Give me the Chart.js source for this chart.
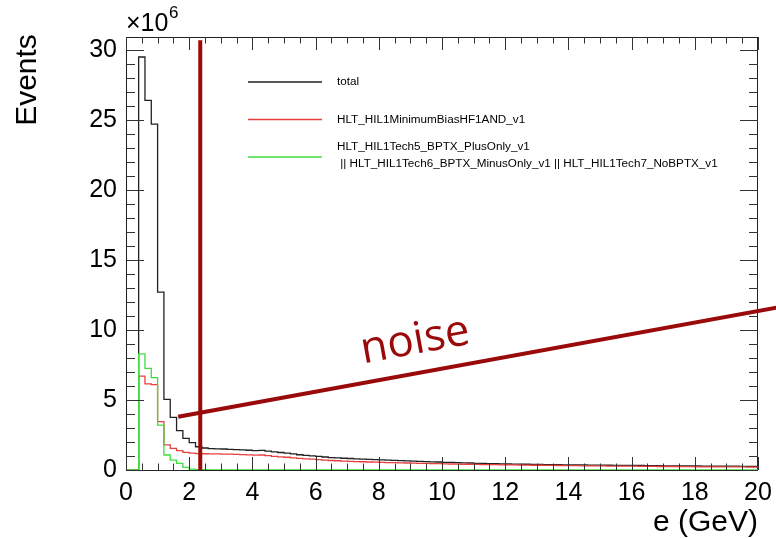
<!DOCTYPE html>
<html>
<head>
<meta charset="utf-8">
<script src="https://cdn.jsdelivr.net/npm/chart.js@4.4.1/dist/chart.umd.min.js"></script>
<style>
  html, body { margin: 0; padding: 0; background: #fff; }
  canvas { display: block; }
</style>
</head>
<body>
<canvas id="energy" width="776" height="539"></canvas>
<script>
// e spectrum, 100 bins of 0.2 GeV from 0 to 20 (units of 10^6 events)
const binWidth = 0.2;

const total = [
  0, 0, 29.5, 26.4, 24.7, 12.7, 5.05, 3.76, 2.81, 2.26,
  1.95, 1.66, 1.57, 1.53, 1.51, 1.50, 1.48, 1.46, 1.44, 1.41,
  1.38, 1.40, 1.35, 1.30, 1.25, 1.20, 1.15, 1.09, 1.05, 1.01,
  0.97, 0.93, 0.89, 0.86, 0.84, 0.82, 0.80, 0.78, 0.76, 0.74,
  0.72, 0.70, 0.69, 0.67, 0.65, 0.63, 0.61, 0.60, 0.58, 0.57,
  0.55, 0.54, 0.52, 0.51, 0.50, 0.48, 0.47, 0.46, 0.45, 0.44,
  0.43, 0.42, 0.42, 0.41, 0.40, 0.40, 0.39, 0.38, 0.38, 0.37,
  0.37, 0.36, 0.36, 0.35, 0.35, 0.34, 0.34, 0.33, 0.33, 0.33,
  0.32, 0.32, 0.31, 0.31, 0.31, 0.30, 0.30, 0.30, 0.29, 0.29,
  0.29, 0.28, 0.28, 0.28, 0.27, 0.27, 0.27, 0.26, 0.26, 0.26
];

const minBias = [
  0, 0, 6.7, 6.15, 6.1, 3.45, 1.79, 1.55, 1.38, 1.26,
  1.20, 1.17, 1.16, 1.15, 1.15, 1.14, 1.14, 1.12, 1.10, 1.08,
  1.06, 1.07, 1.02, 0.98, 0.94, 0.91, 0.87, 0.83, 0.80, 0.77,
  0.74, 0.71, 0.68, 0.66, 0.64, 0.62, 0.60, 0.59, 0.57, 0.56,
  0.54, 0.53, 0.52, 0.51, 0.50, 0.49, 0.48, 0.47, 0.46, 0.45,
  0.44, 0.43, 0.42, 0.41, 0.41, 0.40, 0.39, 0.38, 0.38, 0.37,
  0.36, 0.36, 0.35, 0.35, 0.34, 0.34, 0.33, 0.33, 0.32, 0.32,
  0.31, 0.31, 0.30, 0.30, 0.29, 0.29, 0.28, 0.28, 0.28, 0.27,
  0.27, 0.26, 0.26, 0.26, 0.25, 0.25, 0.25, 0.24, 0.24, 0.24,
  0.23, 0.23, 0.23, 0.23, 0.22, 0.22, 0.22, 0.22, 0.21, 0.21
];

const bptxTech = [
  0, 0, 8.3, 7.26, 6.6, 3.2, 1.07, 0.71, 0.48, 0.19,
  0.06, 0.03, 0.02, 0.01, 0.01, 0, 0, 0, 0, 0,
  0, 0, 0, 0, 0, 0, 0, 0, 0, 0,
  0, 0, 0, 0, 0, 0, 0, 0, 0, 0,
  0, 0, 0, 0, 0, 0, 0, 0, 0, 0,
  0, 0, 0, 0, 0, 0, 0, 0, 0, 0,
  0, 0, 0, 0, 0, 0, 0, 0, 0, 0,
  0, 0, 0, 0, 0, 0, 0, 0, 0, 0,
  0, 0, 0, 0, 0, 0, 0, 0, 0, 0,
  0, 0, 0, 0, 0, 0, 0, 0, 0, 0
];

const xTicks = [0, 2, 4, 6, 8, 10, 12, 14, 16, 18, 20];
const yTicks = [0, 5, 10, 15, 20, 25, 30];

const legendRows = [
  { color: '#222222', lines: ['total'] },
  { color: '#e8403f', lines: ['HLT_HIL1MinimumBiasHF1AND_v1'] },
  { color: '#40dc40', lines: ['HLT_HIL1Tech5_BPTX_PlusOnly_v1',
                              ' || HLT_HIL1Tech6_BPTX_MinusOnly_v1 || HLT_HIL1Tech7_NoBPTX_v1'] }
];

// hand-drawn noise marks
const noiseCut = [{ x: 2.35, y: 0 }, { x: 2.35, y: 30.7 }];
const noiseArrow = [{ x: 1.65, y: 3.8 }, { x: 20.6, y: 11.6 }];
const noiseLabel = { text: 'noise', x: 9.15, y: 9.2 };

// one point per bin low edge plus the closing edge
function toSteps(values) {
  const pts = values.map((v, i) => ({ x: i * binWidth, y: v }));
  pts.push({ x: values.length * binWidth, y: values[values.length - 1] });
  return pts;
}

const FONT = '"Liberation Sans", Arial, Helvetica, sans-serif';
const darkRed = '#9a0a0a';

const rootFrame = {
  id: 'rootFrame',
  beforeDatasetsDraw(chart) {
    const { ctx, chartArea: a } = chart;
    ctx.save();
    ctx.strokeStyle = '#222';
    ctx.lineWidth = 1;
    ctx.strokeRect(a.left + 0.5, a.top + 0.5, a.right - a.left - 1, a.bottom - a.top);
    ctx.restore();
  },
  afterDatasetsDraw(chart) {
    const { ctx, chartArea: a, scales: { x, y } } = chart;
    ctx.save();
    ctx.strokeStyle = '#333';
    ctx.lineWidth = 1;
    ctx.beginPath();
    // x ticks, inward on bottom and top
    for (let v = 0; v <= 20.001; v += 0.5) {
      const px = Math.round(x.getPixelForValue(v)) + 0.5;
      const len = Math.abs(v % 2) < 0.01 ? 13 : 6.5;
      ctx.moveTo(px, a.bottom); ctx.lineTo(px, a.bottom - len);
      ctx.moveTo(px, a.top); ctx.lineTo(px, a.top + len);
    }
    // y ticks, inward on left and right
    for (let v = 0; v <= 30; v += 1) {
      const py = Math.round(y.getPixelForValue(v)) + 0.5;
      const len = v % 5 === 0 ? 18 : 9;
      ctx.moveTo(a.left, py); ctx.lineTo(a.left + len, py);
      ctx.moveTo(a.right, py); ctx.lineTo(a.right - len, py);
    }
    ctx.stroke();

    ctx.fillStyle = '#000';
    ctx.font = '25px ' + FONT;
    ctx.textBaseline = 'middle';
    ctx.textAlign = 'right';
    yTicks.forEach(v => ctx.fillText(String(v), a.left - 9, y.getPixelForValue(v)));
    ctx.textAlign = 'center';
    xTicks.forEach(v => ctx.fillText(String(v), x.getPixelForValue(v), a.bottom + 23));

    // axis titles
    ctx.font = '30px ' + FONT;
    ctx.textAlign = 'right';
    ctx.fillText('e (GeV)', a.right, a.bottom + 53);
    ctx.save();
    ctx.translate(28, 80);
    ctx.rotate(-Math.PI / 2);
    ctx.textAlign = 'center';
    ctx.fillText('Events', 0, 0);
    ctx.restore();

    // exponent
    ctx.textAlign = 'left';
    ctx.font = '25px ' + FONT;
    ctx.fillText('\u00d710', a.left, 24);
    ctx.font = '17px ' + FONT;
    ctx.fillText('6', a.left + 43, 13);

    // legend
    const rowY = [82, 119.5, 157];
    ctx.font = '11.7px ' + FONT;
    legendRows.forEach((row, i) => {
      ctx.strokeStyle = row.color;
      ctx.lineWidth = 1.3;
      ctx.beginPath();
      ctx.moveTo(248, rowY[i]); ctx.lineTo(322, rowY[i]);
      ctx.stroke();
      ctx.fillStyle = '#000';
      const n = row.lines.length;
      row.lines.forEach((t, k) => ctx.fillText(t, 337, rowY[i] + (k - (n - 1) / 2) * 17 - 2 * (n - 1)));
    });

    // noise label
    ctx.save();
    ctx.translate(x.getPixelForValue(noiseLabel.x), y.getPixelForValue(noiseLabel.y));
    ctx.rotate(-10.3 * Math.PI / 180);
    ctx.font = '44px "Open Sans", "Noto Sans", sans-serif';
    ctx.fillStyle = darkRed;
    ctx.textAlign = 'center';
    ctx.fillText(noiseLabel.text, 0, 0);
    ctx.restore();
    ctx.restore();
  }
};

const histo = (label, values, color) => ({
  label: label,
  data: toSteps(values),
  borderColor: color,
  borderWidth: 1.3,
  stepped: 'before',
  pointRadius: 0,
  fill: false
});

new Chart(document.getElementById('energy'), {
  type: 'line',
  data: {
    datasets: [
      { label: 'cut', data: noiseCut, borderColor: darkRed, borderWidth: 4, pointRadius: 0, clip: false },
      { label: 'arrow', data: noiseArrow, borderColor: darkRed, borderWidth: 4, pointRadius: 0, clip: false },
      histo(legendRows[2].lines.join(''), bptxTech, legendRows[2].color),
      histo(legendRows[1].lines[0], minBias, legendRows[1].color),
      histo(legendRows[0].lines[0], total, legendRows[0].color)
    ]
  },
  options: {
    responsive: false,
    animation: false,
    devicePixelRatio: 1,
    events: [],
    layout: { padding: { left: 126, right: 18, top: 37, bottom: 69 } },
    scales: {
      x: { type: 'linear', min: 0, max: 20, display: false },
      y: { type: 'linear', min: 0, max: 30.93, display: false }
    },
    plugins: {
      legend: { display: false },
      tooltip: { enabled: false }
    }
  },
  plugins: [rootFrame]
});
</script>
</body>
</html>
